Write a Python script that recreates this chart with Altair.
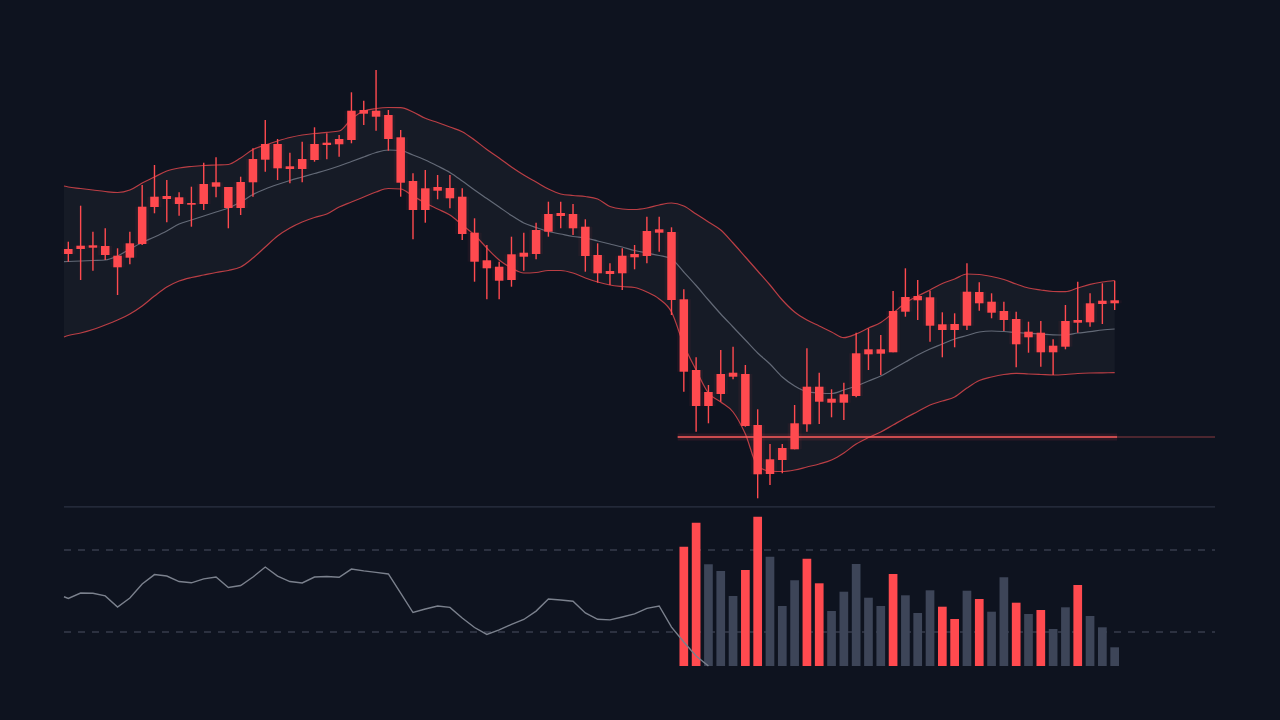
import altair as alt
import pandas as pd

# ---------------- data ----------------
high = [358.3, 394.3, 368.3, 371.7, 351.7, 368.3, 415, 435, 420, 407.7,
        413.3, 437.3, 442.7, 413, 423.3, 451.7, 480, 461, 447.3, 458.3,
        472.7, 466.7, 465, 507.7, 499.3, 530, 490, 470, 426.7, 430,
        425, 425, 411.7, 381.7, 355, 338.3, 363.3, 367.3, 377.3, 398.3,
        398.3, 396, 380.7, 356.7, 336.7, 351.7, 355, 383.3, 383.3, 372.7,
        310.7, 242.7, 215, 250, 253.3, 235, 190.7, 156, 156, 195,
        251.7, 227.3, 210.7, 217.3, 267.3, 271.7, 265, 309, 331.7, 320,
        309.3, 287.7, 286.7, 336.7, 317.7, 306.7, 298.3, 288.3, 278.3, 279,
        260.7, 295, 318.3, 306.7, 316.7, 319.3]
body_hi = [351, 354.3, 354.7, 354, 344.3, 356.7, 393.3, 403.3, 404, 402.7,
           397, 416, 417.7, 413, 418, 441, 456, 456, 433.7, 441,
           456, 457.3, 461, 489.3, 490, 489.3, 485, 462.7, 419, 411.7,
           413, 412, 403.3, 367.3, 339.7, 333.3, 345.7, 347.3, 370, 386,
           387, 386, 373.3, 345, 329, 344.3, 346, 369, 370.7, 368,
           300.7, 230, 208, 226, 227.3, 226, 175, 140.7, 152, 176.7,
           213.3, 213.3, 201.3, 205.7, 246.7, 250.7, 250.7, 289, 303, 304,
           302.7, 275.7, 276, 308.3, 308, 298.3, 289, 281, 268.3, 267.3,
           254.3, 279, 280, 296.7, 299.3, 299.7]
body_lo = [346, 351, 352.3, 345, 332.7, 342.3, 356, 393, 401, 396,
           395.3, 396, 413.3, 392, 392, 417.7, 440.3, 431.7, 431, 431,
           440, 455, 455.7, 460, 486.3, 483.3, 461, 417.3, 390, 390,
           409.3, 401.7, 366, 338.3, 331.7, 319.3, 320, 343.3, 346, 368.3,
           384, 371.7, 344, 326.7, 326, 326.7, 342.7, 344, 367.3, 300,
           228.3, 194, 194, 206, 223.3, 174, 125.7, 126, 140, 150.7,
           175.7, 198.3, 197.3, 197.3, 204, 245.7, 246.3, 247.7, 288.3, 299.7,
           274.3, 270, 270, 274.3, 296.7, 287.3, 280, 255.7, 262.7, 247.7,
           247.7, 253.3, 277.3, 277.7, 296, 296.7]
low = [338.3, 320, 329.3, 340, 305, 335.7, 355, 386.7, 377.7, 384.3,
       373.3, 390, 402.7, 371.7, 385, 403.3, 428.3, 420, 416.7, 417.7,
       438.3, 440.7, 443.3, 456.7, 475, 469.3, 449.3, 403.3, 360.7, 377.3,
       400.7, 391.7, 360, 318.3, 300.7, 300.7, 313.3, 329.3, 340.7, 363.3,
       371.7, 365, 328.3, 317.3, 315, 310, 330.7, 336.7, 348.3, 285,
       208.3, 168.3, 176.7, 198.3, 220.7, 173.3, 101.7, 115, 126.7, 150.7,
       168.3, 176, 182.7, 180, 202.7, 230, 225, 247.7, 283.3, 280,
       258.3, 242.7, 252.7, 270, 289.3, 281.7, 269, 232.7, 247.3, 233.3,
       225, 250.7, 267.3, 273.3, 276, 290]

# Bollinger bands: first point sits at the left edge, just before candle 0
band_x0 = -0.35
upper = [414, 413, 411.5, 410, 408.5, 407.5, 410, 417, 423, 429, 432,
         433.5, 434.5, 435, 435.5, 442, 450.5, 455, 459, 462.5, 465,
         466.5, 467.7, 469, 481, 489, 491.5, 492.5, 492.3, 488, 481.7,
         477.5, 473, 468.3, 460, 450.5, 442, 433, 425, 418, 411,
         406, 404.5, 403.5, 401, 393.5, 391, 390.5, 392, 395, 397,
         394, 386, 378, 370, 357, 343, 329, 315, 300, 288,
         280, 274, 268, 262.3, 266, 272, 277.5, 287, 297, 304,
         310, 316.5, 321, 326, 325.5, 323.5, 320.5, 316, 312, 310,
         308.5, 308.3, 312, 315.7, 318, 319.5]
mid = [338.3, 338.5, 339, 339.5, 340, 344, 351, 357.5, 363, 369, 376,
       380, 384, 388, 392, 398, 405.5, 411, 415.5, 419.5, 423,
       426.5, 430, 434, 438.5, 443, 447.5, 450, 449.5, 445, 440,
       434, 427.5, 419, 410, 401.5, 393, 384.5, 377, 372.5, 368.5,
       366, 363.5, 362, 359, 356, 353, 349.5, 347, 344.5, 341,
       328, 314.5, 300, 286, 273, 260, 247, 236, 223, 214,
       208.3, 207, 206.5, 210, 214, 219, 224, 231, 238, 245,
       251, 256, 261, 264.5, 268, 269, 268.5, 267.5, 266.7, 266,
       265.2, 265, 267, 268.3, 270, 271]
lower = [263, 264.5, 267, 270.5, 275, 280, 286, 294, 304, 313, 319,
         322.5, 325, 327.5, 329.5, 333, 342, 353, 364, 372, 378,
         382.5, 386, 393, 398, 403, 408, 411.5, 411, 404, 397,
         391, 385, 375, 365, 352, 340, 332, 327, 327.5, 329.5,
         329.5, 327, 322, 318, 315, 313.5, 312.5, 308, 301, 288,
         255, 230, 207, 198, 188, 166, 134, 129, 128.5, 130,
         133, 136, 140, 147, 156, 162.5, 168, 175, 182, 188.5,
         195, 199, 203, 212, 219.5, 223, 225.5, 226.7, 226, 225.5,
         225, 225.5, 226.5, 227, 227.2, 227.3]

support_level = 163
support_start, support_end = 49.5, 85.2

# oscillator: first point at the left edge, then one per candle
rsi = [47.2, 46.4, 49.0, 48.9, 47.6, 42.2, 46.6, 53.4, 58.0, 57.3, 54.6,
       54.0, 55.9, 56.8, 51.7, 52.7, 56.8, 61.7, 57.3, 54.6, 53.9,
       56.8, 57.1, 56.7, 60.7, 59.8, 59.1, 58.3, 49.0, 39.5, 41.2,
       42.7, 42.0, 36.8, 32.2, 28.8, 31.0, 33.7, 36.1, 40.2, 46.1,
       45.6, 45.0, 39.3, 36.2, 35.9, 37.3, 38.8, 41.5, 42.7, 32.4,
       25.1, 18.3, 13.4]
rsi_levels = [70, 30]

vol_start = 50
volume = [119.3, 143.3, 101.7, 95, 70, 96, 149.3, 109.3, 60, 85.7,
          107.3, 82.7, 55, 74.3, 102, 68.3, 60, 92, 70.7, 53,
          75.7, 59.3, 47, 75.3, 67, 54.3, 88.7, 63.3, 52, 56,
          37, 58.7, 81, 50, 38.7, 18.7]
vol_side = ["down", "down", "up", "up", "up", "down", "down", "up", "up", "up",
            "down", "down", "up", "up", "up", "up", "up", "down", "up", "up",
            "up", "down", "down", "up", "down", "up", "up", "down", "up", "down",
            "up", "up", "down", "up", "up", "up"]

# ---------------- frames ----------------
n = len(high)
cdf = pd.DataFrame({"i": list(range(n)), "high": high, "low": low,
                    "body_hi": body_hi, "body_lo": body_lo})
bdf = pd.DataFrame({"i": [band_x0] + list(range(n)),
                    "upper": upper, "mid": mid, "lower": lower})
rdf = pd.DataFrame({"i": [band_x0] + list(range(len(rsi) - 1)), "rsi": rsi})
vdf = pd.DataFrame({"i": [vol_start + k for k in range(len(volume))],
                    "vol": volume, "side": vol_side, "base": [0] * len(volume)})

X_MIN, X_MAX = -0.35, 93.15
W, H = 1151, 720
RED = "#ff4a4f"
BG = "#0e131f"

xs = alt.Scale(domain=[X_MIN, X_MAX], nice=False, zero=False, padding=0)
price_scale = alt.Scale(domain=[-120, 600], nice=False, zero=False, padding=0)
# oscillator panel: levels 70 and 30 placed 82 px apart
rsi_scale = alt.Scale(domain=[30 - 88 / 2.05, 30 + 632 / 2.05], nice=False, zero=False, padding=0)
vol_scale = alt.Scale(domain=[-54, 666], nice=False, zero=False, padding=0)

def X(f="i"):
    return alt.X(f"{f}:Q", scale=xs, axis=None)

base = alt.Chart(cdf)
bbase = alt.Chart(bdf)

band = bbase.mark_area(color="#ffffff", opacity=0.035, interpolate="monotone").encode(
    x=X(), y=alt.Y("upper:Q", scale=price_scale, axis=None), y2="lower:Q")
up_line = bbase.mark_line(color="#e5484d", strokeWidth=1.2, opacity=0.8, interpolate="monotone").encode(
    x=X(), y=alt.Y("upper:Q", scale=price_scale, axis=None))
lo_line = bbase.mark_line(color="#e5484d", strokeWidth=1.2, opacity=0.8, interpolate="monotone").encode(
    x=X(), y=alt.Y("lower:Q", scale=price_scale, axis=None))
mid_line = bbase.mark_line(color="#6b7280", strokeWidth=1.2, opacity=0.9, interpolate="monotone").encode(
    x=X(), y=alt.Y("mid:Q", scale=price_scale, axis=None))

sdf = pd.DataFrame({"x0": [support_start, support_end], "x1": [support_end, X_MAX],
                    "p": [support_level, support_level], "kind": ["main", "ext"]})
sup_glow = alt.Chart(sdf[sdf.kind == "main"]).mark_rule(color=RED, strokeWidth=7, opacity=0.12).encode(
    x=X("x0"), x2="x1:Q", y=alt.Y("p:Q", scale=price_scale, axis=None))
sup_main = alt.Chart(sdf[sdf.kind == "main"]).mark_rule(color="#ff5c5c", strokeWidth=1.6).encode(
    x=X("x0"), x2="x1:Q", y=alt.Y("p:Q", scale=price_scale, axis=None))
sup_ext = alt.Chart(sdf[sdf.kind == "ext"]).mark_rule(color="#8a3a40", strokeWidth=1).encode(
    x=X("x0"), x2="x1:Q", y=alt.Y("p:Q", scale=price_scale, axis=None))

wick = base.mark_rule(color=RED, strokeWidth=1.4).encode(
    x=X(), y=alt.Y("low:Q", scale=price_scale, axis=None), y2="high:Q")
body_glow = base.mark_bar(color=RED, size=14, opacity=0.06).encode(
    x=X(), y=alt.Y("body_lo:Q", scale=price_scale, axis=None), y2="body_hi:Q")
body = base.mark_bar(color=RED, size=8.5).encode(
    x=X(), y=alt.Y("body_lo:Q", scale=price_scale, axis=None), y2="body_hi:Q")

# lower panel
sep_df = pd.DataFrame({"x0": [X_MIN], "x1": [X_MAX], "r": [91]})
sep = alt.Chart(sep_df).mark_rule(color="#2b3243", strokeWidth=1.2).encode(
    x=X("x0"), x2="x1:Q", y=alt.Y("r:Q", scale=rsi_scale, axis=None))
lvl_df = pd.DataFrame({"x0": [X_MIN] * 2, "x1": [X_MAX] * 2, "r": rsi_levels})
levels = alt.Chart(lvl_df).mark_rule(color="#4a5162", strokeWidth=1, strokeDash=[7, 7]).encode(
    x=X("x0"), x2="x1:Q", y=alt.Y("r:Q", scale=rsi_scale, axis=None))

vbars = alt.Chart(vdf).mark_bar(size=8.7).encode(
    x=X(), y=alt.Y("vol:Q", scale=vol_scale, axis=None), y2="base:Q",
    color=alt.Color("side:N", scale=alt.Scale(domain=["down", "up"], range=[RED, "#3d4558"]), legend=None))

rsi_line = alt.Chart(rdf).mark_line(color="#7b818d", strokeWidth=1.4).encode(
    x=X(), y=alt.Y("rsi:Q", scale=rsi_scale, axis=None))

chart = alt.layer(
    band, up_line, lo_line, mid_line, sup_glow, sup_main, sup_ext,
    body_glow, wick, body, sep, levels, vbars, rsi_line
).resolve_scale(y="independent").properties(
    width=W, height=H,
    padding={"left": 64, "right": 65, "top": 0, "bottom": 0},
    autosize=alt.AutoSizeParams(type="none"),
    background=BG,
).configure_view(stroke=None)

chart.save("out.html", embed_options={"renderer": "svg", "actions": False})
